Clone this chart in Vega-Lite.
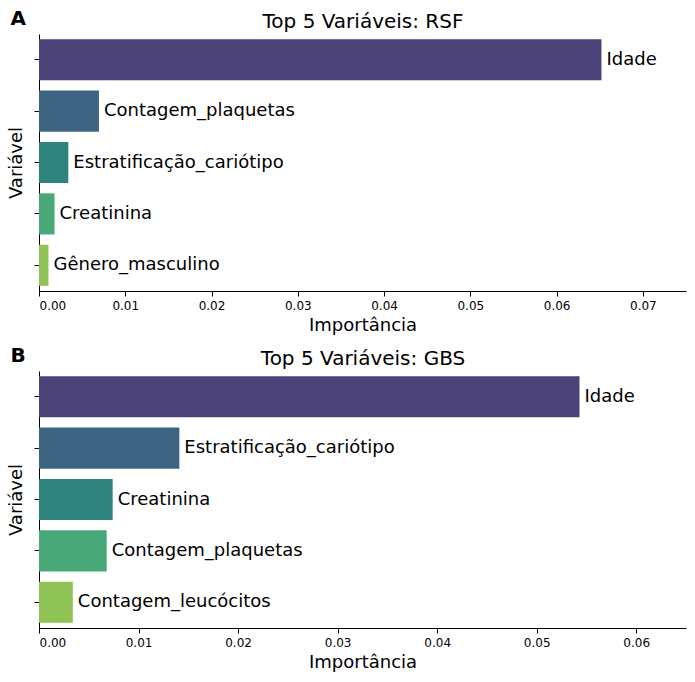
{
  "$schema": "https://vega.github.io/schema/vega-lite/v6.json",
  "padding": {"left": 7, "top": 9, "right": 7, "bottom": 5},
  "spacing": 12,
  "config": {
    "font": "DejaVu Sans",
    "view": {"stroke": null},
    "axis": {
      "grid": false,
      "domainColor": "black",
      "tickColor": "black",
      "labelColor": "black",
      "titleColor": "black",
      "titleFontWeight": "normal",
      "titleFont": "DejaVu Sans",
      "labelFont": "DejaVu Sans"
    },
    "title": {"font": "DejaVu Sans", "color": "black"}
  },
  "vconcat": [
    {
      "width": 647,
      "height": 257,
      "title": {"text": "A", "anchor": "start", "frame": "bounds", "fontSize": 20, "fontWeight": "bold", "offset": -18, "dx": 3},
      "data": {
        "values": [
          {"variavel": "Idade", "importancia": 0.0652, "rank": 1},
          {"variavel": "Contagem_plaquetas", "importancia": 0.00695, "rank": 2},
          {"variavel": "Estratificação_cariótipo", "importancia": 0.0034, "rank": 3},
          {"variavel": "Creatinina", "importancia": 0.0018, "rank": 4},
          {"variavel": "Gênero_masculino", "importancia": 0.0011, "rank": 5}
        ]
      },
      "encoding": {
        "y": {
          "field": "variavel",
          "type": "nominal",
          "sort": {"field": "rank", "order": "ascending"},
          "scale": {"paddingInner": 0.2, "paddingOuter": 0.1},
          "axis": {"title": "Variável", "labels": false, "tickSize": 5, "titleFontSize": 18, "titlePadding": 8}
        }
      },
      "layer": [
        {
          "mark": {"type": "bar"},
          "encoding": {
            "x": {
              "field": "importancia",
              "type": "quantitative",
              "scale": {"domain": [0, 0.075], "nice": false},
              "axis": {"title": "Importância", "values": [0, 0.01, 0.02, 0.03, 0.04, 0.05, 0.06, 0.07], "format": ".2f", "labelFontSize": 12, "labelPadding": 4, "tickSize": 5, "titleFontSize": 18, "titlePadding": 5}
            },
            "color": {
              "field": "rank",
              "type": "ordinal",
              "scale": {"domain": [1, 2, 3, 4, 5], "range": ["#4a4278", "#3d6582", "#2f837f", "#48a877", "#8fc355"]},
              "legend": null
            }
          }
        },
        {
          "mark": {"type": "text", "align": "left", "baseline": "middle", "dx": 5, "fontSize": 18, "color": "black"},
          "encoding": {
            "x": {
              "field": "importancia",
              "type": "quantitative",
              "scale": {"domain": [0, 0.075], "nice": false},
              "axis": {"orient": "top", "title": "Top 5 Variáveis: RSF", "domain": false, "ticks": false, "labels": false, "titleFontSize": 20, "titlePadding": 3}
            },
            "text": {"field": "variavel"}
          }
        }
      ],
      "resolve": {"axis": {"x": "independent"}}
    },
    {
      "width": 647,
      "height": 257,
      "title": {"text": "B", "anchor": "start", "frame": "bounds", "fontSize": 20, "fontWeight": "bold", "offset": -18, "dx": 3},
      "data": {
        "values": [
          {"variavel": "Idade", "importancia": 0.0543, "rank": 1},
          {"variavel": "Estratificação_cariótipo", "importancia": 0.0141, "rank": 2},
          {"variavel": "Creatinina", "importancia": 0.0074, "rank": 3},
          {"variavel": "Contagem_plaquetas", "importancia": 0.0068, "rank": 4},
          {"variavel": "Contagem_leucócitos", "importancia": 0.0034, "rank": 5}
        ]
      },
      "encoding": {
        "y": {
          "field": "variavel",
          "type": "nominal",
          "sort": {"field": "rank", "order": "ascending"},
          "scale": {"paddingInner": 0.2, "paddingOuter": 0.1},
          "axis": {"title": "Variável", "labels": false, "tickSize": 5, "titleFontSize": 18, "titlePadding": 8}
        }
      },
      "layer": [
        {
          "mark": {"type": "bar"},
          "encoding": {
            "x": {
              "field": "importancia",
              "type": "quantitative",
              "scale": {"domain": [0, 0.065], "nice": false},
              "axis": {"title": "Importância", "values": [0, 0.01, 0.02, 0.03, 0.04, 0.05, 0.06], "format": ".2f", "labelFontSize": 12, "labelPadding": 4, "tickSize": 5, "titleFontSize": 18, "titlePadding": 5}
            },
            "color": {
              "field": "rank",
              "type": "ordinal",
              "scale": {"domain": [1, 2, 3, 4, 5], "range": ["#4a4278", "#3d6582", "#2f837f", "#48a877", "#8fc355"]},
              "legend": null
            }
          }
        },
        {
          "mark": {"type": "text", "align": "left", "baseline": "middle", "dx": 5, "fontSize": 18, "color": "black"},
          "encoding": {
            "x": {
              "field": "importancia",
              "type": "quantitative",
              "scale": {"domain": [0, 0.065], "nice": false},
              "axis": {"orient": "top", "title": "Top 5 Variáveis: GBS", "domain": false, "ticks": false, "labels": false, "titleFontSize": 20, "titlePadding": 3}
            },
            "text": {"field": "variavel"}
          }
        }
      ],
      "resolve": {"axis": {"x": "independent"}}
    }
  ]
}
